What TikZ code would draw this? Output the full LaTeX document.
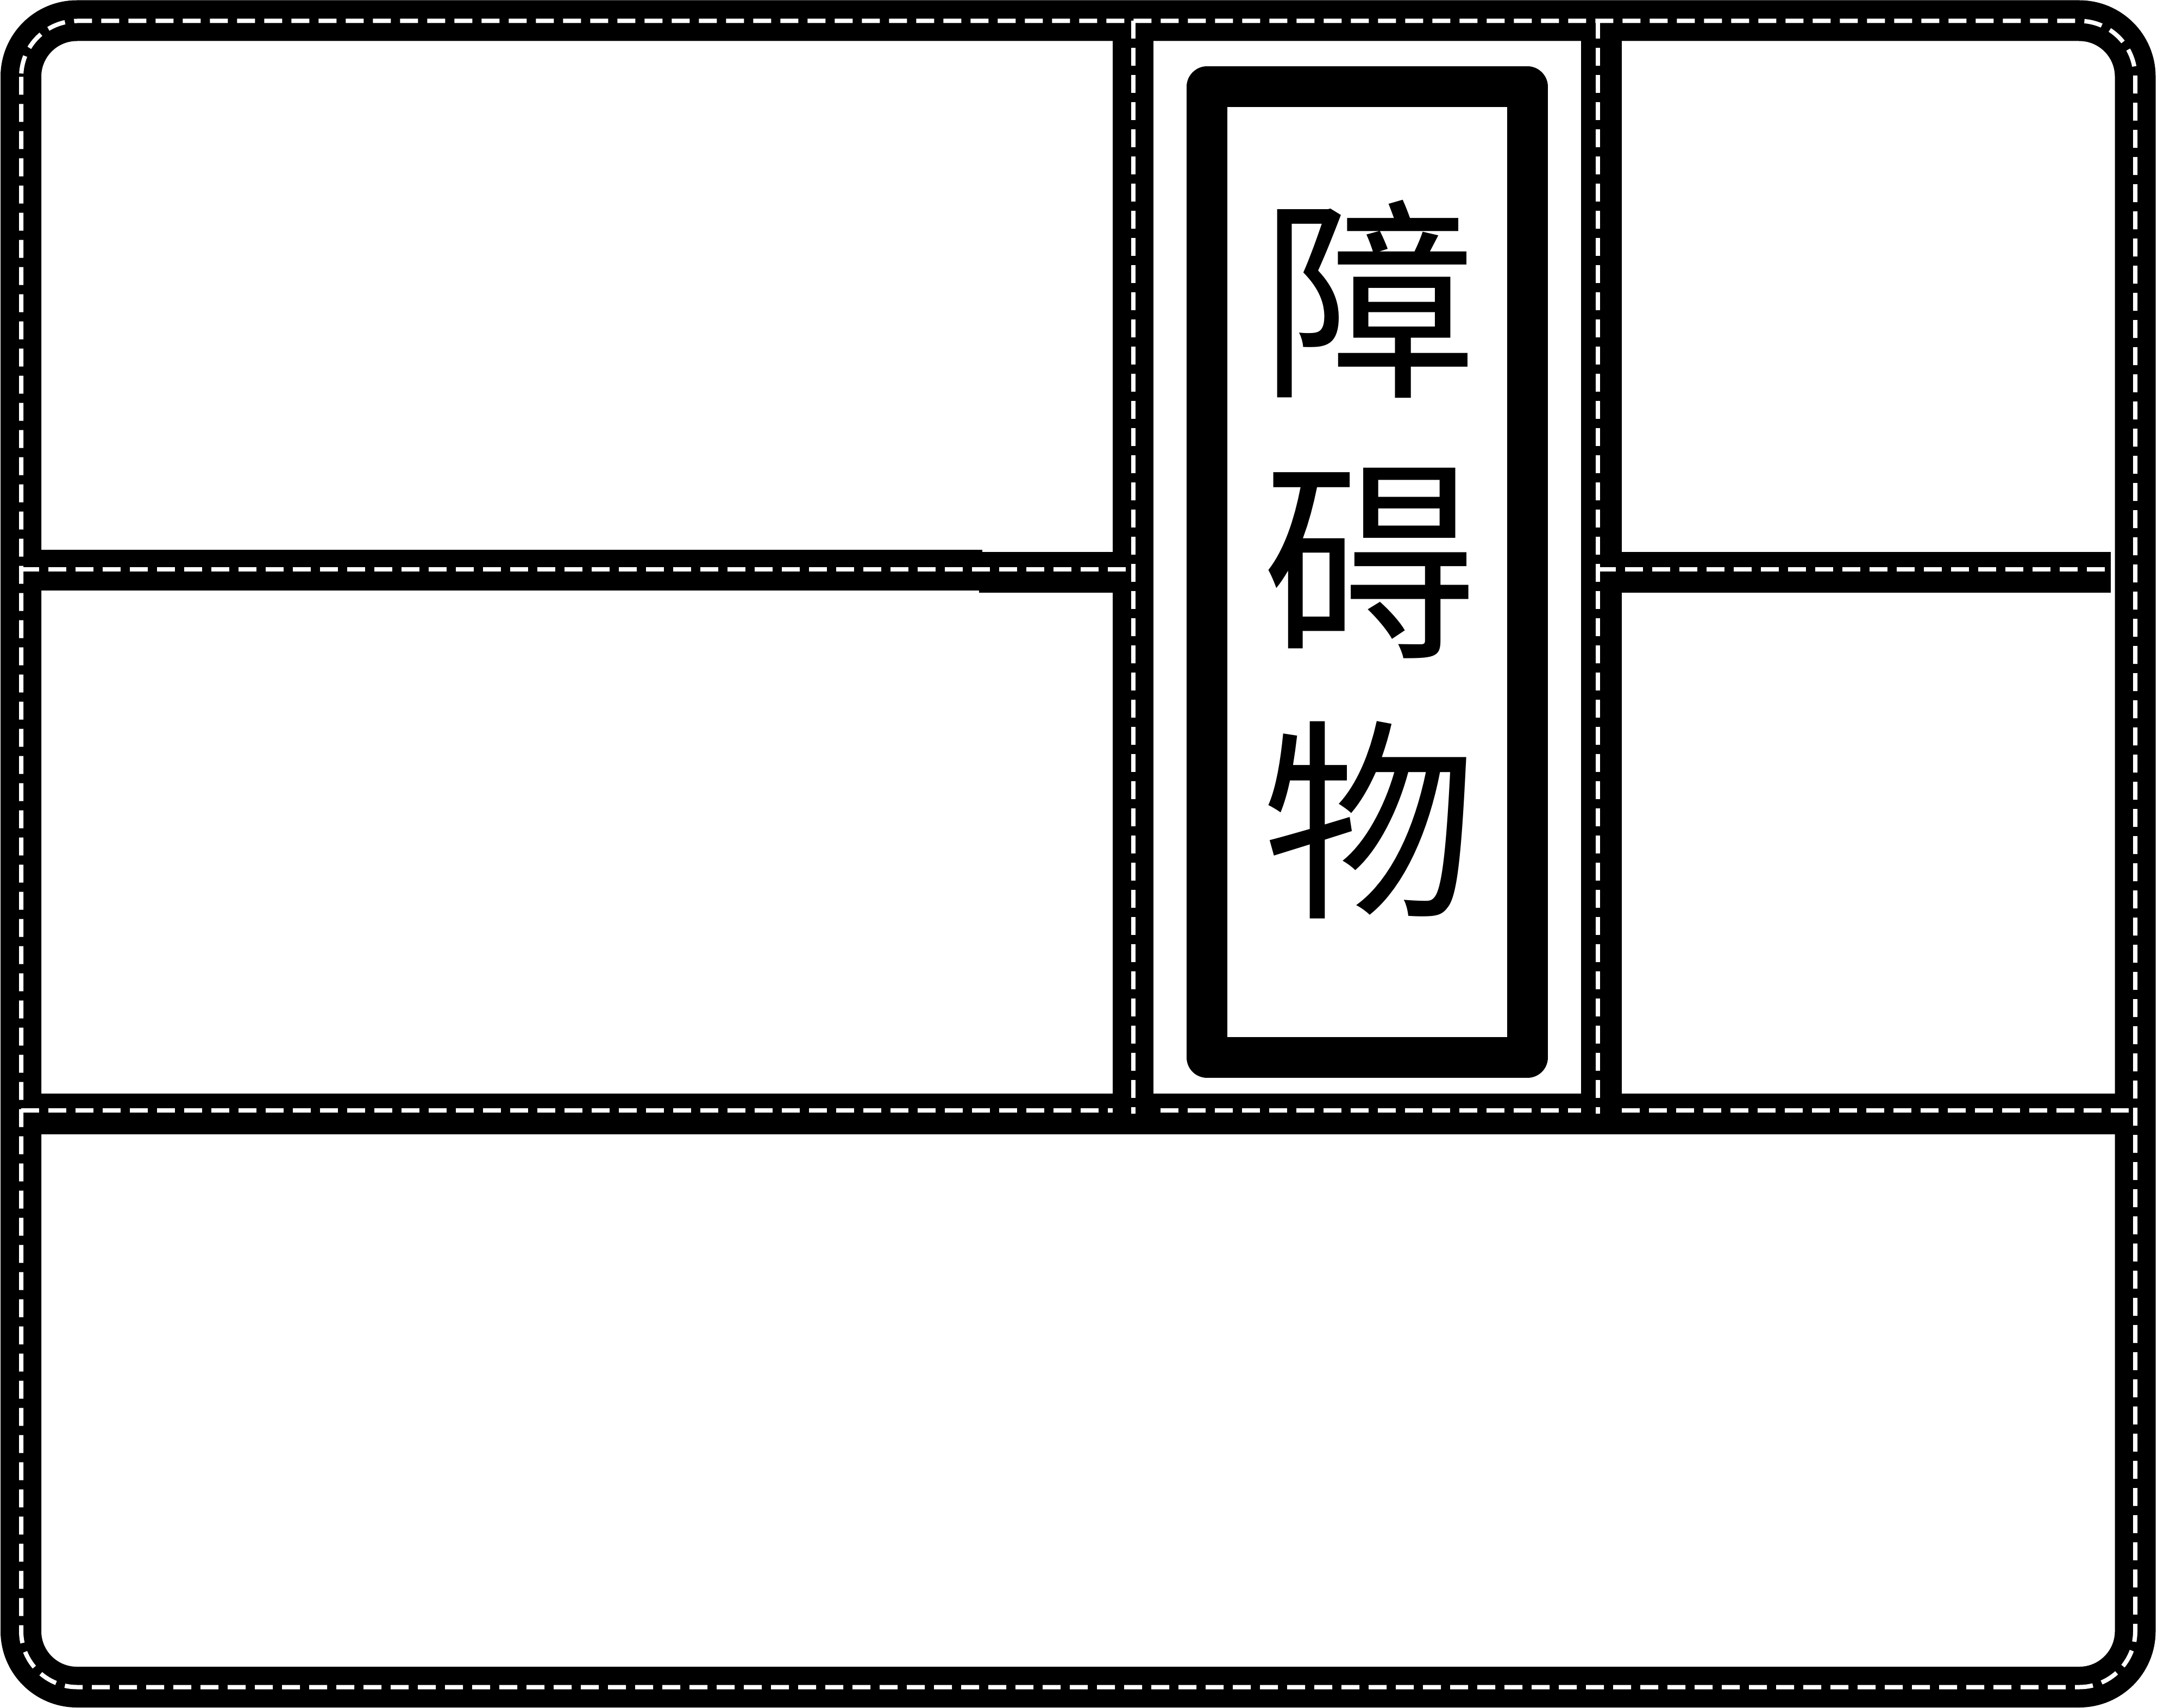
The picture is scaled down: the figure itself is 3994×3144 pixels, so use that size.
\documentclass[tikz,border=0pt]{standalone}
\usepackage{fontspec}
\newfontfamily\cjk{Noto Sans CJK SC}
\tikzset{
  road/.style={line width=75pt, draw=black, line cap=butt},
  lane/.style={line width=8pt, draw=white, dash pattern=on 33pt off 17pt, line cap=butt},
  obstaclebox/.style={draw=black, line width=75pt, line join=round, minimum width=590pt, minimum height=1786.5pt, inner sep=0pt, outer sep=0pt},
  obstaclelabel/.style={font=\cjk\fontsize{395}{479}\selectfont, align=center, inner sep=0pt}
}
\begin{document}
\begin{tikzpicture}[x=1pt, y=-1pt]
\useasboundingbox (0,0) rectangle (3994,3144);
% ---- road surfaces ----
\draw[road, rounded corners=103pt] (38.5,38) rectangle (3930,3105.5);
\draw[road] (2085.5,38) -- (2085.5,2050);
\draw[road] (2947.5,38) -- (2947.5,2050);
\draw[road] (38,1049.5) -- (1808,1049.5);
\draw[road] (1802,1053.5) -- (2085.5,1053.5);
\draw[road] (2947.5,1053.5) -- (3885,1053.5);
\draw[road] (38,2050.5) -- (3930,2050.5);
% ---- lane markings ----
\draw[lane, rounded corners=103pt] (39,38.5) rectangle (3930,3105.5);
\draw[lane] (2085.5,38) -- (2085.5,2050);
\draw[lane] (2941,38) -- (2941,2050);
\draw[lane] (39,1048) -- (2085.5,1048);
\draw[lane] (2941,1048) -- (3874,1048);
\draw[lane] (39,2044) -- (2048,2044);
\draw[lane] (2136,2044) -- (2910,2044);
\draw[lane] (2985,2044) -- (3930,2044);
% ---- obstacle ----
\node[obstaclebox] (obstacle) at (2516.5,1053.25) {};
\node[obstaclelabel] (label) at (2521,1030) {障\\碍\\物};
\end{tikzpicture}
\end{document}
